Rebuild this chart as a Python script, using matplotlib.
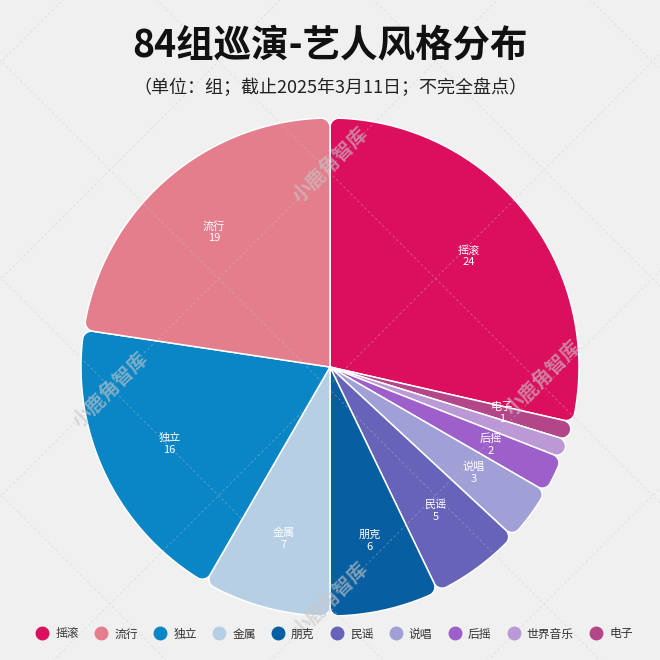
import numpy as np
import matplotlib.pyplot as plt
from matplotlib.path import Path
from matplotlib.patches import PathPatch
from matplotlib.lines import Line2D

plt.rcParams['font.family'] = ['Noto Sans CJK SC', 'DejaVu Sans']

# legend order
styles = ['摇滚', '流行', '独立', '金属', '朋克', '民谣', '说唱', '后摇', '世界音乐', '电子']
counts = [24, 19, 16, 7, 6, 5, 3, 2, 1, 1]
colors = ['#dc0f5f', '#e47e8c', '#0a85c6', '#b6cfe4', '#075ea0',
          '#6763b9', '#a09fd6', '#9d5fc9', '#bb98d6', '#b34689']
# clockwise drawing order from 12 o'clock
pie_order = ['摇滚', '电子', '世界音乐', '后摇', '说唱', '民谣', '朋克', '金属', '独立', '流行']
hidden_labels = ['世界音乐']

W = H = 660
CX, CY = 330, 660 - 367
R = 249
RC = 9


def arc_pts(cx, cy, r, t1, t2, n=40):
    t = np.radians(np.linspace(t1, t2, n))
    return np.column_stack([cx + r * np.cos(t), cy + r * np.sin(t)])


def rounded_wedge(a1, a2, rc):
    # a1 < a2 in degrees, counter-clockwise
    half = (a2 - a1) / 2
    rc = min(rc, R * np.sin(np.radians(half)) / (1 + np.sin(np.radians(half))))
    d = np.degrees(np.arcsin(rc / (R - rc)))
    c1 = (CX + (R - rc) * np.cos(np.radians(a1 + d)), CY + (R - rc) * np.sin(np.radians(a1 + d)))
    c2 = (CX + (R - rc) * np.cos(np.radians(a2 - d)), CY + (R - rc) * np.sin(np.radians(a2 - d)))
    pts = [np.array([[CX, CY]])]
    pts.append(arc_pts(c1[0], c1[1], rc, a1 - 90, a1 + d, 12))
    pts.append(arc_pts(CX, CY, R, a1 + d, a2 - d, max(4, int(a2 - a1) * 2)))
    pts.append(arc_pts(c2[0], c2[1], rc, a2 - d, a2 + 90, 12))
    pts.append(np.array([[CX, CY]]))
    verts = np.vstack(pts)
    codes = [Path.MOVETO] + [Path.LINETO] * (len(verts) - 2) + [Path.CLOSEPOLY]
    return Path(verts, codes)


fig = plt.figure(figsize=(6.6, 6.6), dpi=100)
fig.patch.set_facecolor('#f0f0f0')
ax = fig.add_axes([0, 0, 1, 1])
ax.set_xlim(0, W)
ax.set_ylim(0, H)
ax.set_aspect('equal')
ax.axis('off')

total = sum(counts)
start = 90.0
for name in pie_order:
    i = styles.index(name)
    sweep = counts[i] / total * 360
    a2 = start
    a1 = start - sweep
    patch = PathPatch(rounded_wedge(a1, a2, RC), facecolor=colors[i],
                      edgecolor='white', linewidth=1.1, zorder=2)
    ax.add_patch(patch)
    if name not in hidden_labels:
        mid = np.radians((a1 + a2) / 2)
        lr = 0.715 * R
        ax.text(CX + lr * np.cos(mid), CY + lr * np.sin(mid),
                f'{name}\n{counts[i]}', color='white', fontsize=8,
                ha='center', va='center', linespacing=1.25, zorder=4)
    start = a1

# watermark grid
wm_col = '#c8c8c8'
for k in range(-4, 8):
    s = 280 + 217 * k   # x + y = s (pixel coords, y down)
    xs = np.array([-50, 710])
    ax.plot(xs, H - (s - xs), color=wm_col, lw=0.6, ls=(0, (3, 3)), alpha=0.45, zorder=3)
    dd = -60 + 217 * k  # x - y = dd
    ax.plot(xs, H - (xs - dd), color=wm_col, lw=0.6, ls=(0, (3, 3)), alpha=0.45, zorder=3)
for (wx, wy) in [(330, 165), (110, 390), (543, 378), (330, 600)]:
    ax.text(wx, H - wy, '小鹿角智库', color=wm_col, alpha=0.6, fontsize=14,
            fontweight='bold', rotation=45, ha='center', va='center', zorder=3)

fig.text(0.5, 1 - 45 / H, '84组巡演-艺人风格分布', ha='center', va='center',
         fontsize=27, fontweight='bold', color='#111111')
fig.text(0.5, 1 - 88 / H, '（单位：组；截止2025年3月11日；不完全盘点）', ha='center',
         va='center', fontsize=13, color='#222222')

handles = [Line2D([], [], marker='o', ls='none', markersize=9,
                  markerfacecolor=c, markeredgecolor=c) for c in colors]
leg = fig.legend(handles, styles, loc='center', bbox_to_anchor=(0.507, 1 - 634 / H),
                 ncol=len(styles), frameon=False, fontsize=8.5, handletextpad=0.6,
                 columnspacing=1.4, handlelength=1.0)
for t in leg.get_texts():
    t.set_color('#333333')

fig.savefig('out.png', dpi=100, facecolor=fig.get_facecolor())
